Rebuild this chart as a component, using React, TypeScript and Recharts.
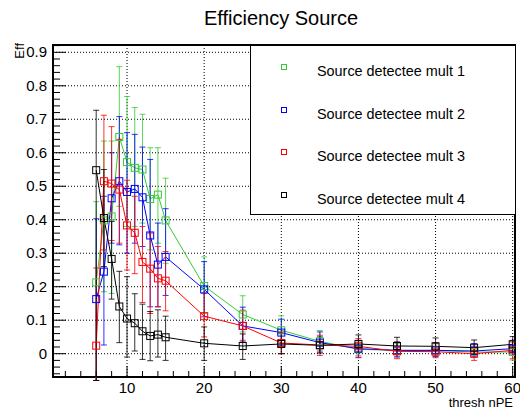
import React from 'react';
import {
  ComposedChart,
  Line,
  XAxis,
  YAxis,
  CartesianGrid,
  ErrorBar,
  ReferenceArea,
  Label,
} from 'recharts';

// thresholds (nPE)
const thresholds = [6, 7, 8, 9, 10, 11, 12, 13, 14, 15, 20, 25, 30, 35, 40, 45, 50, 55, 60];

// Source detectee mult 1
const mult1 = [0.213, 0.398, 0.41, 0.647, 0.572, 0.555, 0.55, 0.462, 0.475, 0.398, 0.202, 0.117, 0.07, 0.037, 0.013, 0.01, 0.01, 0.005, 0.005];
const mult1Hi = [0.454, 0.635, 0.635, 0.857, 0.768, 0.735, 0.715, 0.615, 0.615, 0.524, 0.289, 0.173, 0.113, 0.069, 0.035, 0.03, 0.03, 0.022, 0.022];
const mult1Lo = [-0.08, 0.185, 0.18, 0.44, 0.38, 0.38, 0.39, 0.31, 0.33, 0.27, 0.12, 0.065, 0.03, 0.01, -0.005, -0.008, -0.008, -0.01, -0.019];

// Source detectee mult 2
const mult2 = [0.163, 0.245, 0.464, 0.515, 0.483, 0.492, 0.467, 0.353, 0.266, 0.289, 0.192, 0.083, 0.063, 0.033, 0.015, 0.01, 0.01, 0.008, 0.015];
const mult2Hi = [0.403, 0.47, 0.6, 0.708, 0.66, 0.655, 0.617, 0.58, 0.39, 0.433, 0.275, 0.139, 0.103, 0.065, 0.04, 0.035, 0.033, 0.03, 0.04];
const mult2Lo = [-0.08, 0.026, 0.33, 0.325, 0.3, 0.33, 0.32, 0.14, 0.14, 0.174, 0.11, 0.035, 0.025, 0.005, -0.012, -0.01, -0.008, -0.01, -0.005];

// Source detectee mult 3
const mult3 = [0.024, 0.515, 0.508, 0.49, 0.383, 0.361, 0.274, 0.254, 0.225, 0.218, 0.112, 0.083, 0.032, 0.026, 0.022, 0.007, 0.006, 0.0, 0.01];
const mult3Hi = [0.256, 0.712, 0.678, 0.64, 0.518, 0.47, 0.38, 0.36, 0.32, 0.305, 0.18, 0.13, 0.065, 0.055, 0.045, 0.035, 0.03, 0.022, 0.035];
const mult3Lo = [-0.08, 0.31, 0.338, 0.33, 0.25, 0.239, 0.153, 0.12, 0.14, 0.128, 0.05, 0.04, 0.0, -0.005, -0.01, -0.015, -0.012, -0.02, -0.015];

// Source detectee mult 4
const mult4 = [0.548, 0.405, 0.283, 0.141, 0.105, 0.091, 0.067, 0.053, 0.057, 0.049, 0.031, 0.023, 0.029, 0.025, 0.029, 0.023, 0.022, 0.018, 0.028];
const mult4Hi = [0.727, 0.55, 0.395, 0.246, 0.23, 0.179, 0.148, 0.126, 0.131, 0.112, 0.08, 0.059, 0.06, 0.05, 0.056, 0.049, 0.047, 0.041, 0.051];
const mult4Lo = [-0.08, 0.26, 0.163, 0.033, -0.01, 0.008, -0.017, -0.021, -0.01, -0.02, -0.02, -0.017, 0.0, 0.002, 0.005, 0.0, 0.0, -0.003, 0.005];

const seriesNames = ['Source detectee mult 1', 'Source detectee mult 2', 'Source detectee mult 3', 'Source detectee mult 4'];
const seriesColors = ['#33cc33', '#0000ff', '#ff0000', '#000000'];

const xMajorTicks = [10, 20, 30, 40, 50, 60];
const yMajorTicks = [0, 0.1, 0.2, 0.3, 0.4, 0.5, 0.6, 0.7, 0.8, 0.9];

const X_DOMAIN = [0.4, 60.3];
const Y_DOMAIN = [-0.0696, 0.9218];
const FONT = '"Liberation Sans", Arial, Helvetica, sans-serif';

// minor ticks every 2 on x, every 0.02 on y
const xTicks: number[] = [];
for (let v = 2; v <= 60; v += 2) xTicks.push(v);
const yTicks: number[] = [];
for (let v = -6; v <= 92; v += 2) yTicks.push(v / 100);

const series = [
  { key: 'm1', vals: mult1, hi: mult1Hi, lo: mult1Lo },
  { key: 'm2', vals: mult2, hi: mult2Hi, lo: mult2Lo },
  { key: 'm3', vals: mult3, hi: mult3Hi, lo: mult3Lo },
  { key: 'm4', vals: mult4, hi: mult4Hi, lo: mult4Lo },
];

const chartData = thresholds.map((x, i) => {
  const row: any = { x };
  series.forEach((s) => {
    row[s.key] = s.vals[i];
    row[s.key + 'Err'] = [s.vals[i] - s.lo[i], s.hi[i] - s.vals[i]];
  });
  return row;
});

// ticks drawn inside the frame, ROOT style
const XTick = (props: any) => {
  const { x, y, payload } = props;
  const v = payload.value;
  const major = v % 10 === 0;
  return (
    <g>
      <line x1={x} x2={x} y1={y} y2={y - (major ? 11 : 6)} stroke="#000" strokeWidth={1} />
      {major && (
        <text x={x} y={y + 16} textAnchor="middle" fontSize={15} fontFamily={FONT} fill="#000">
          {v}
        </text>
      )}
    </g>
  );
};

const YTick = (props: any) => {
  const { x, y, payload } = props;
  const v = payload.value;
  const major = Math.round(v * 100) % 10 === 0;
  return (
    <g>
      <line x1={x} x2={x + (major ? 13 : 7)} y1={y} y2={y} stroke="#000" strokeWidth={1} />
      {major && (
        <text x={x - 6} y={y + 5} textAnchor="end" fontSize={15} fontFamily={FONT} fill="#000">
          {String(v)}
        </text>
      )}
    </g>
  );
};

const squareDot = (color: string) => (props: any) => {
  const { cx, cy, index } = props;
  if (cx == null || cy == null) return <g key={index} />;
  return (
    <rect key={index} x={cx - 3.5} y={cy - 3.5} width={7} height={7} fill="none" stroke={color} strokeWidth={1} />
  );
};

// legend box drawn over the frame, top right
const LegendBox = () => (
  <div
    style={{
      position: 'absolute',
      left: 250,
      top: 45,
      boxSizing: 'border-box',
      width: 266,
      height: 170,
      border: '1px solid #000',
      background: '#fff',
      fontFamily: FONT,
      fontSize: 14.4,
      color: '#000',
    }}
  >
    {seriesNames.map((name, i) => (
      <div key={name} style={{ position: 'absolute', left: 0, top: 14 + i * 42.5, height: 20, width: '100%' }}>
        <svg width={8} height={8} style={{ position: 'absolute', left: 29, top: 3 }}>
          <rect x={1.5} y={1.5} width={5} height={5} fill="none" stroke={seriesColors[i]} strokeWidth={1} />
        </svg>
        <span style={{ position: 'absolute', left: 66, top: 3, whiteSpace: 'nowrap' }}>{name}</span>
      </div>
    ))}
  </div>
);

export default function App() {
  return (
    <div style={{ position: 'absolute', left: 0, top: 0, width: 520, height: 410, background: '#fff' }}>
      <div
        style={{
          position: 'absolute',
          left: 281,
          top: 8,
          transform: 'translateX(-50%)',
          fontFamily: FONT,
          fontSize: 20,
          lineHeight: '20px',
          whiteSpace: 'nowrap',
          color: '#000',
        }}
      >
        Efficiency Source
      </div>
      <ComposedChart
        width={520}
        height={410}
        data={chartData}
        margin={{ top: 45, right: 5, bottom: 0, left: 0 }}
      >
        <CartesianGrid
          stroke="#000"
          strokeDasharray="1 2"
          horizontalValues={yMajorTicks}
          verticalValues={xMajorTicks}
        />
        <XAxis
          type="number"
          dataKey="x"
          domain={X_DOMAIN}
          allowDataOverflow
          ticks={xTicks}
          interval={0}
          tick={XTick}
          tickLine={false}
          axisLine={false}
          tickSize={0}
          tickMargin={0}
          height={33}
        >
          <Label
            content={(p: any) => {
              const vb = p.viewBox;
              return (
                <text x={vb.x + vb.width - 2} y={vb.y + 30} textAnchor="end" fontSize={13} fontFamily={FONT} fill="#000">
                  thresh nPE
                </text>
              );
            }}
          />
        </XAxis>
        <YAxis
          type="number"
          domain={Y_DOMAIN}
          allowDataOverflow
          ticks={yTicks}
          interval={0}
          tick={YTick}
          tickLine={false}
          axisLine={false}
          tickSize={0}
          tickMargin={0}
          width={53}
        >
          <Label
            content={(p: any) => {
              const vb = p.viewBox;
              const tx = 24;
              const ty = vb.y - 2;
              return (
                <text
                  x={tx}
                  y={ty}
                  transform={`rotate(-90 ${tx} ${ty})`}
                  textAnchor="end"
                  fontSize={13}
                  fontFamily={FONT}
                  fill="#000"
                >
                  Eff
                </text>
              );
            }}
          />
        </YAxis>
        {series.map((s, i) => (
          <Line
            key={s.key}
            dataKey={s.key}
            name={seriesNames[i]}
            stroke={seriesColors[i]}
            strokeWidth={1}
            dot={squareDot(seriesColors[i])}
            activeDot={false}
            isAnimationActive={false}
            type="linear"
          >
            <ErrorBar
              dataKey={s.key + 'Err'}
              direction="y"
              width={3}
              stroke={seriesColors[i]}
              strokeWidth={1}
              strokeOpacity={0.8}
              isAnimationActive={false}
            />
          </Line>
        ))}
        <ReferenceArea
          x1={X_DOMAIN[0]}
          x2={X_DOMAIN[1]}
          y1={Y_DOMAIN[0]}
          y2={Y_DOMAIN[1]}
          fill="none"
          stroke="#000"
          strokeWidth={2}
          ifOverflow="visible"
        />
      </ComposedChart>
      <LegendBox />
    </div>
  );
}
